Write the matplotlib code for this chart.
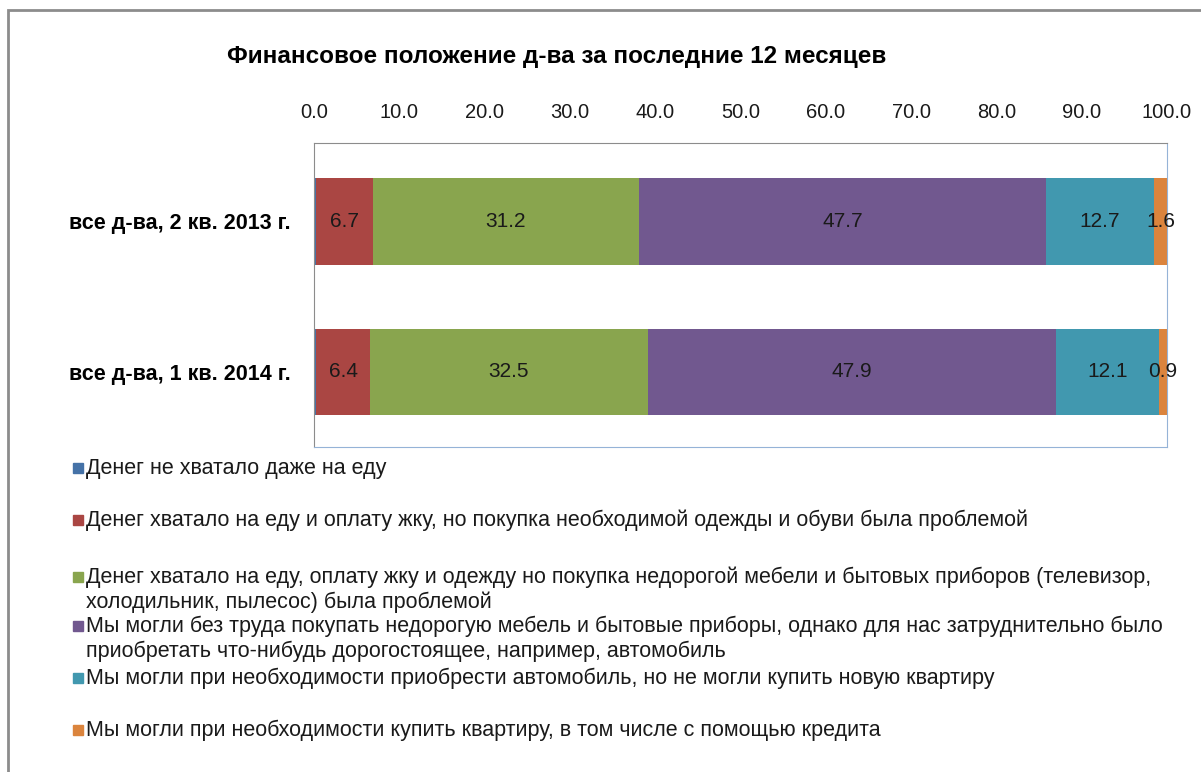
import numpy as np
import matplotlib
matplotlib.use("Agg")
from matplotlib import pyplot as plt
from matplotlib.patches import Rectangle
from matplotlib.ticker import FormatStrFormatter

plt.rcParams['font.family'] = ['Liberation Sans', 'DejaVu Sans']

# data
categories = ["все д-ва, 2 кв. 2013 г.", "все д-ва, 1 кв. 2014 г."]
series_names = [
    "Денег не хватало даже на еду",
    "Денег хватало на еду и оплату жку, но покупка необходимой одежды и обуви была проблемой",
    "Денег хватало на еду, оплату жку и одежду но покупка недорогой мебели и бытовых приборов (телевизор,\nхолодильник, пылесос) была проблемой",
    "Мы могли без труда покупать недорогую мебель и бытовые приборы, однако для нас затруднительно было\nприобретать что-нибудь дорогостоящее, например, автомобиль",
    "Мы могли при необходимости приобрести автомобиль, но не могли купить новую квартиру",
    "Мы могли при необходимости купить квартиру, в том числе с помощью кредита",
]
no_food = [0.2, 0.2]
no_clothes = [6.7, 6.4]
no_furniture = [31.2, 32.5]
no_car = [47.7, 47.9]
no_flat = [12.7, 12.1]
can_flat = [1.6, 0.9]
series = [no_food, no_clothes, no_furniture, no_car, no_flat, can_flat]
colors = ["#4572A7", "#AA4643", "#89A54E", "#71588F", "#4198AF", "#DB843D"]
show_label = [False, True, True, True, True, True]

W, H = 1201, 772
fig = plt.figure(figsize=(W / 100, H / 100), dpi=100)
ax = fig.add_axes([314 / W, 1 - 447 / H, 853 / W, 304 / H])

y = np.arange(len(categories))
left = np.zeros(len(categories))
for vals, col, lab in zip(series, colors, show_label):
    vals = np.array(vals)
    bars = ax.barh(y, vals, left=left, height=0.576, color=col, linewidth=0)
    if lab:
        ax.bar_label(bars, labels=["%.1f" % v for v in vals], label_type="center",
                     fontsize=15, color="#1a1a1a")
    left += vals

ax.set_xlim(0, 100)
ax.set_ylim(1.497, -0.517)
ax.set_xticks(np.arange(0, 101, 10))
ax.xaxis.set_major_formatter(FormatStrFormatter("%.1f"))
ax.xaxis.tick_top()
ax.tick_params(axis="x", length=0, pad=15, labelsize=14.5, colors="#1a1a1a")
ax.set_yticks(y)
ax.set_yticklabels(categories, fontsize=15.5, fontweight="bold")
ax.tick_params(axis="y", length=0, pad=17)
ax.spines["left"].set_color("#8c8c8c")
ax.spines["top"].set_color("#8c8c8c")
ax.spines["right"].set_color("#95b3d7")
ax.spines["bottom"].set_color("#95b3d7")

fig.text(557 / W, 1 - 56 / H, "Финансовое положение д-ва за последние 12 месяцев",
         ha="center", va="center", fontsize=17.5, fontweight="bold")

# legend drawn by hand, one text per line
legend_y = [468, 520, 577, 626, 678, 730]
for name, col, ly in zip(series_names, colors, legend_y):
    fig.patches.append(Rectangle((73 / W, 1 - (ly + 5) / H), 10 / W, 10 / H,
                                 transform=fig.transFigure, color=col))
    for k, line in enumerate(name.split("\n")):
        fig.text(86 / W, 1 - (ly + 25 * k) / H, line, ha="left", va="center",
                 fontsize=15.5, color="#1a1a1a")

# outer frame
fig.patches.append(Rectangle((8 / W, -0.1), 1.2, 1 - 10 / H + 0.1,
                             transform=fig.transFigure, fill=False,
                             edgecolor="#8c8c8c", linewidth=2))

fig.savefig("out.png", dpi=100)
